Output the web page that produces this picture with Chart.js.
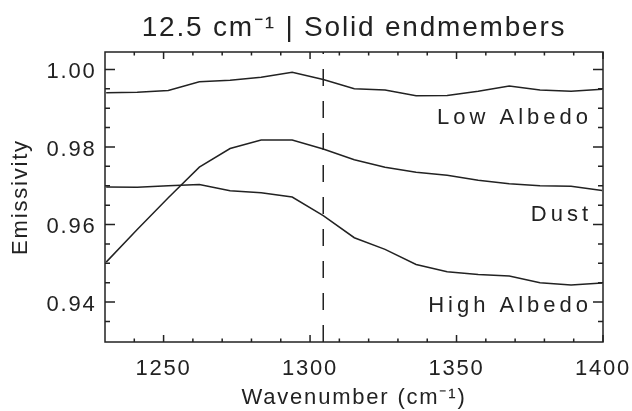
<!DOCTYPE html>
<html lang="en">
<head>
    <meta charset="UTF-8">
    <title>Solid endmembers</title>
    <style>
        body {
            margin: 0;
            padding: 0;
            background: #fff;
        }
        #chart {
            display: block;
        }
    </style>
</head>
<body>
    <canvas id="chart" width="632" height="411"></canvas>

    <script src="https://cdn.jsdelivr.net/npm/chart.js@4"></script>
    <script>
        // Spectra, sampled on the instrument channel grid
        const wavenumbers = [1230.4, 1241.0, 1251.6, 1262.2, 1272.7, 1283.3, 1293.9, 1304.5, 1315.1,
                             1325.6, 1336.2, 1346.8, 1357.4, 1368.0, 1378.5, 1389.1, 1399.7];
        const lowAlbedo  = [0.9940, 0.9941, 0.9946, 0.9968, 0.9972, 0.9980, 0.9993, 0.9974, 0.9950,
                            0.9947, 0.9932, 0.9933, 0.9944, 0.9957, 0.9947, 0.9944, 0.9949];
        const dust       = [0.9503, 0.9587, 0.9669, 0.9748, 0.9796, 0.9818, 0.9818, 0.9795, 0.9767,
                            0.9748, 0.9735, 0.9727, 0.9714, 0.9705, 0.9700, 0.9699, 0.9688];
        const highAlbedo = [0.9697, 0.9696, 0.9700, 0.9703, 0.9687, 0.9682, 0.9671, 0.9623, 0.9566,
                            0.9536, 0.9497, 0.9478, 0.9471, 0.9467, 0.9450, 0.9444, 0.9449];

        const markerWavenumber = 1304.5;

        // axes
        const xRange = [1230, 1400];
        const yRange = [0.9297, 1.0045];
        const xMajorTicks = [1250, 1300, 1350, 1400];
        const xMinorTicks = [1240, 1260, 1270, 1280, 1290, 1310, 1320, 1330, 1340, 1360, 1370, 1380, 1390];
        const yMajorTicks = [0.94, 0.96, 0.98, 1.00];
        const yMinorTicks = [0.935, 0.945, 0.95, 0.955, 0.965, 0.97, 0.975, 0.985, 0.99, 0.995];

        // curve names, written under the right end of each curve
        const curveNames = ['Low Albedo', 'Dust', 'High Albedo'];
        const nameY = [0.9875, 0.9624, 0.9389];
        const nameX = 1394.9;

        const ink = '#222';
        const fontFamily = '"Liberation Sans", Arial, sans-serif';

        const toPoints = ys => wavenumbers.map((w, i) => ({ x: w, y: ys[i] }));

        function lineSet(label, data, extra) {
            return Object.assign({
                label: label,
                data: data,
                borderColor: ink,
                borderWidth: 1.5,
                pointRadius: 0,
                tension: 0,
                fill: false
            }, extra || {});
        }

        // wide glyph spacing for every label Chart.js draws
        const spacing = {
            id: 'spacing',
            beforeLayout(chart) { chart.ctx.letterSpacing = '1.8px'; },
            beforeDraw(chart) { chart.ctx.letterSpacing = '1.8px'; }
        };

        // box around the plot with inward ticks on all four sides, plus curve names
        const frame = {
            id: 'frame',
            afterDraw(chart) {
                const { ctx, chartArea: a, scales: { x, y } } = chart;
                ctx.save();
                ctx.strokeStyle = ink;
                ctx.lineWidth = 1.5;
                ctx.strokeRect(a.left, a.top, a.right - a.left, a.bottom - a.top);

                ctx.beginPath();
                const xTick = (v, len) => {
                    const px = x.getPixelForValue(v);
                    ctx.moveTo(px, a.bottom); ctx.lineTo(px, a.bottom - len);
                    ctx.moveTo(px, a.top); ctx.lineTo(px, a.top + len);
                };
                const yTick = (v, len) => {
                    const py = y.getPixelForValue(v);
                    ctx.moveTo(a.left, py); ctx.lineTo(a.left + len, py);
                    ctx.moveTo(a.right, py); ctx.lineTo(a.right - len, py);
                };
                xMajorTicks.forEach(v => xTick(v, 7));
                xMinorTicks.forEach(v => xTick(v, 3.5));
                yMajorTicks.forEach(v => yTick(v, 10));
                yMinorTicks.forEach(v => yTick(v, 5));
                ctx.stroke();

                ctx.fillStyle = ink;
                ctx.font = '22px ' + fontFamily;
                ctx.letterSpacing = '4px';
                ctx.textAlign = 'right';
                ctx.textBaseline = 'middle';
                curveNames.forEach((name, i) => {
                    ctx.fillText(name, x.getPixelForValue(nameX) + 4, y.getPixelForValue(nameY[i]));
                });
                ctx.restore();
            }
        };

        new Chart(document.getElementById('chart'), {
            type: 'line',
            data: {
                datasets: [
                    lineSet('Low Albedo', toPoints(lowAlbedo)),
                    lineSet('Dust', toPoints(dust)),
                    lineSet('High Albedo', toPoints(highAlbedo)),
                    lineSet('marker', [
                        { x: markerWavenumber, y: yRange[0] },
                        { x: markerWavenumber, y: yRange[1] }
                    ], { borderDash: [17, 15] })
                ]
            },
            options: {
                responsive: false,
                animation: false,
                devicePixelRatio: 1,
                layout: { padding: { left: 0, right: 29, top: 0, bottom: 0 } },
                plugins: {
                    legend: { display: false },
                    tooltip: { enabled: false },
                    title: {
                        display: true,
                        fullSize: false,
                        text: '12.5 cm⁻¹ | Solid endmembers',
                        color: ink,
                        font: { family: fontFamily, size: 28, weight: 'normal', lineHeight: 1.2 },
                        padding: { top: 11.9, bottom: 6.5 }
                    }
                },
                scales: {
                    x: {
                        type: 'linear',
                        min: xRange[0],
                        max: xRange[1],
                        grid: { display: false, drawTicks: false },
                        border: { display: false },
                        afterBuildTicks: s => { s.ticks = xMajorTicks.map(v => ({ value: v })); },
                        afterFit: s => {
                            s.height = 69;
                            // the right margin is set by layout.padding alone
                            s.paddingLeft = 0;
                            s.paddingRight = 0;
                        },
                        ticks: {
                            color: ink,
                            padding: 13.5,
                            maxRotation: 0,
                            font: { family: fontFamily, size: 22, lineHeight: 1.2 },
                            callback: v => String(v)
                        },
                        title: {
                            display: true,
                            text: 'Wavenumber (cm⁻¹)',
                            color: ink,
                            font: { family: fontFamily, size: 22, lineHeight: 1.2 },
                            padding: { top: 0, bottom: 0.3 }
                        }
                    },
                    y: {
                        min: yRange[0],
                        max: yRange[1],
                        grid: { display: false, drawTicks: false },
                        border: { display: false },
                        afterBuildTicks: s => { s.ticks = yMajorTicks.map(v => ({ value: v })); },
                        afterFit: s => { s.width = 105; },
                        ticks: {
                            color: ink,
                            padding: 8.5,
                            labelOffset: 2.5,
                            font: { family: fontFamily, size: 22, lineHeight: 1.2 },
                            callback: v => v.toFixed(2)
                        },
                        title: {
                            display: true,
                            text: 'Emissivity',
                            color: ink,
                            font: { family: fontFamily, size: 22, lineHeight: 1.2 },
                            padding: { top: 7.8, bottom: 0 }
                        }
                    }
                }
            },
            plugins: [spacing, frame]
        });
    </script>
</body>
</html>
